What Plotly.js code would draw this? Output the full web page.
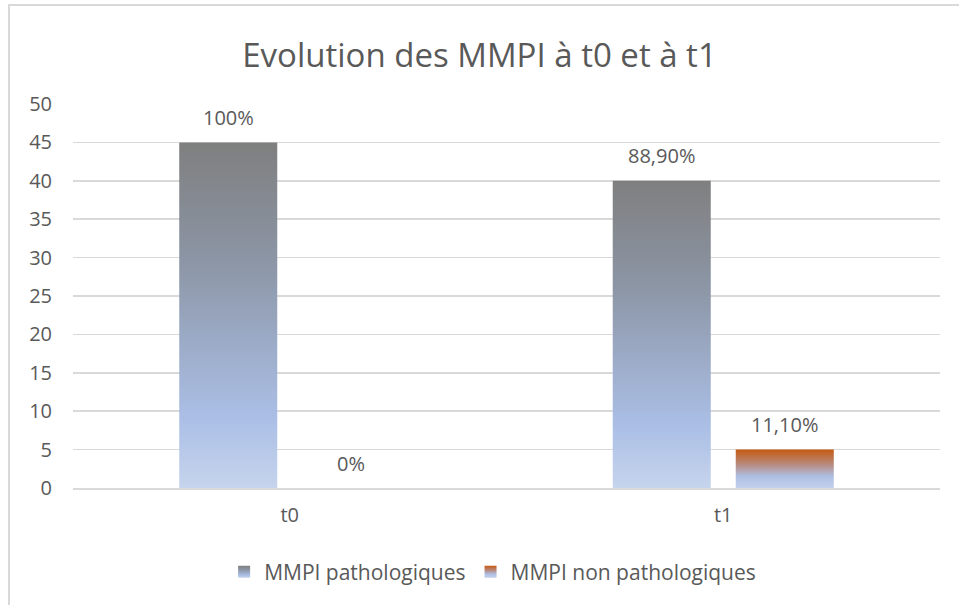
<!DOCTYPE html>
<html>
<head>
<meta charset="utf-8">
<script src="https://cdn.plot.ly/plotly-3.0.1.min.js"></script>
<style>
  html, body { margin: 0; padding: 0; background: #fff; }
  #frame { position: absolute; left: 8px; top: 4px; width: 951px; height: 601px;
           border-left: 2px solid #d9d9d9; border-top: 2px solid #d9d9d9; box-sizing: border-box; }
  #chart { position: absolute; left: 0; top: 0; width: 959px; height: 605px; }
</style>
</head>
<body>
<div id="frame"></div>
<div id="chart"></div>
<script>
const categories = ['t0', 't1'];
const seriesNames = ['MMPI pathologiques', 'MMPI non pathologiques'];
const pathoValues = [45, 40];
const nonPathoValues = [0, 5];
const pathoLabels = ['100%', '88,90%'];
const nonPathoLabels = ['0%', '11,10%'];

const textColor = '#595959';
const font = 'Open Sans, sans-serif';

const traces = [
  { type: 'bar', name: seriesNames[0], x: categories, y: pathoValues,
    marker: { color: '#9aa8c4', line: { width: 0 } }, hoverinfo: 'none' },
  { type: 'bar', name: seriesNames[1], x: categories, y: nonPathoValues,
    marker: { color: '#c55a11', line: { width: 0 } }, hoverinfo: 'none' }
];

const annotations = [];
[[pathoValues, pathoLabels, -61.5], [nonPathoValues, nonPathoLabels, 61.5]].forEach(([vals, labs, dx]) => {
  categories.forEach((c, j) => {
    annotations.push({ x: c, y: vals[j], text: labs[j], showarrow: false,
      xshift: dx, yshift: 25, yanchor: 'middle', xanchor: 'center',
      font: { family: font, size: 20, color: textColor } });
  });
});

const layout = {
  width: 959, height: 605,
  paper_bgcolor: 'rgba(0,0,0,0)', plot_bgcolor: 'rgba(0,0,0,0)',
  margin: { l: 73, r: 19, t: 104, b: 117 },
  title: { text: 'Evolution des MMPI à t0 et à t1', font: { family: font, size: 33, color: textColor },
           x: 0.5, xanchor: 'center', y: 1 - 55 / 605, yanchor: 'middle', yref: 'container' },
  barmode: 'group', bargap: 0.4325, bargroupgap: 0.203,
  xaxis: { type: 'category', showgrid: false, showline: true, linecolor: '#d9d9d9', linewidth: 1.5,
           ticks: '', tickfont: { family: font, size: 20, color: textColor }, ticklabelstandoff: 8 },
  yaxis: { range: [0, 50], dtick: 5, showgrid: true, gridcolor: '#d9d9d9', gridwidth: 1.5,
           zeroline: false, showline: false, ticks: '',
           tickfont: { family: font, size: 20, color: textColor }, ticklabelstandoff: 20 },
  showlegend: true,
  legend: { orientation: 'h', x: 0.484, xanchor: 'center', y: -0.219, yanchor: 'middle',
            font: { family: font, size: 21, color: textColor }, itemwidth: 30, traceorder: 'normal' },
  annotations: annotations
};

Plotly.newPlot('chart', traces, layout, { displayModeBar: false, staticPlot: true }).then(gd => {
  const ns = 'http://www.w3.org/2000/svg';
  const svg = gd.querySelector('.main-svg');
  let defs = svg.querySelector('defs');
  if (!defs) { defs = document.createElementNS(ns, 'defs'); svg.insertBefore(defs, svg.firstChild); }
  function grad(id, stops) {
    const g = document.createElementNS(ns, 'linearGradient');
    g.setAttribute('id', id);
    g.setAttribute('x1', '0'); g.setAttribute('y1', '0'); g.setAttribute('x2', '0'); g.setAttribute('y2', '1');
    stops.forEach(([o, c]) => {
      const s = document.createElementNS(ns, 'stop');
      s.setAttribute('offset', o); s.setAttribute('stop-color', c);
      g.appendChild(s);
    });
    defs.appendChild(g);
  }
  grad('gPatho', [[0, '#7f7f7f'], [0.35, '#8c96a6'], [0.8, '#abbfe6'], [1, '#c6d4ec']]);
  grad('gNon', [[0, '#c55a11'], [0.35, '#b98573'], [0.7, '#aebfe4'], [1, '#c3d1ec']]);
  const ids = ['gPatho', 'gNon'];
  gd.querySelectorAll('.barlayer .trace.bars').forEach((t, i) => {
    t.querySelectorAll('path').forEach(p => { p.style.fill = 'url(#' + ids[i] + ')'; });
  });
  gd.querySelectorAll('.legend .traces').forEach((t, i) => {
    t.querySelectorAll('.legendpoints path').forEach(p => { p.style.fill = 'url(#' + ids[i] + ')'; p.style.stroke = 'none'; });
  });
});
</script>
</body>
</html>
